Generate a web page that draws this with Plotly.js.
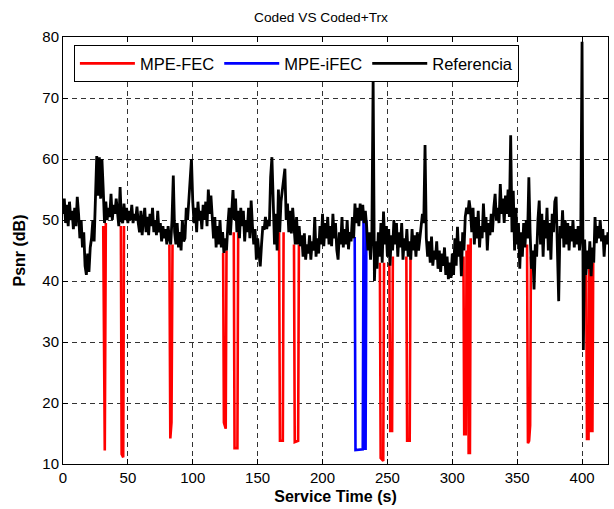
<!DOCTYPE html>
<html>
<head>
<meta charset="utf-8">
<script src="https://cdn.plot.ly/plotly-3.0.1.min.js"></script>
<style>html,body{margin:0;padding:0;background:#fff;}#chart{width:614px;height:509px;}</style>
</head>
<body>
<div id="chart"></div>
<script>
// Referencia: PSNR sampled every 1 s from t = 0 to 420 s
const refStart = 0;
const refStep = 1;
const refPsnr = [
  51, 53.5, 49.5, 52.5, 49, 53, 50, 51.5, 48.5, 52,
  49, 53.8, 51, 47, 50, 45.5, 48, 42.5, 41, 44.5,
  41.5, 45.5, 47, 50, 46.5, 53, 60.5, 54, 60.3, 53.5,
  60, 55, 49.5, 53, 50, 52, 50.5, 54.3, 50, 52.5,
  51, 53.5, 50.5, 49, 55.4, 50, 49.5, 52.7, 50, 52,
  49.5, 51.5, 50, 52.5, 49.5, 51, 50, 52.2, 49.5, 48,
  51.5, 47.5, 50, 52, 48, 50.5, 47.5, 51, 49, 52,
  48, 50, 47.5, 51.5, 48, 49.5, 46.5, 49, 47, 48.5,
  46, 49, 47, 46, 50, 57.3, 48, 46, 49.5, 45.5,
  48, 45, 50, 46.5, 47, 52, 50, 54, 56, 60,
  53, 49.5, 52, 48, 53, 50, 51.5, 48.5, 52.5, 50,
  53, 49, 55, 51, 54, 50, 47, 50.5, 45.5, 49,
  46, 50, 45.5, 48, 44.6, 47, 45, 49, 52, 47.5,
  51, 54.9, 50, 53.5, 48, 51.5, 47, 52, 49, 51.5,
  46.5, 50, 48, 52, 47, 53.2, 49, 46, 48.5, 43.5,
  47, 45, 42.4, 46, 49, 48.4, 50.5, 48.5, 50, 49,
  57, 60.3, 52, 46, 51, 45, 55, 48, 53, 55,
  57, 58.4, 50, 52.7, 48, 51.5, 47.8, 52, 49, 46,
  50.5, 46, 49, 45.7, 47.5, 44, 47.8, 43.5, 46, 44.5,
  47.5, 43.5, 46.5, 45, 50.5, 44, 47, 44.5, 49, 46,
  51, 45.7, 49.5, 47, 50.5, 46, 49, 45.7, 51, 47,
  49.5, 45.1, 43.5, 48, 46, 50.5, 45.5, 48.5, 46, 50,
  45.2, 48, 46.5, 50.5, 47, 52.7, 49.5, 52, 49, 52.7,
  50, 52.5, 49.5, 51.5, 49, 45, 48, 43.5, 47, 73.2,
  40, 46.5, 42, 48, 44, 49.5, 43, 51.4, 46, 49,
  44, 48.5, 42.5, 47.5, 45, 50, 46, 49.5, 44, 48,
  45.5, 49.5, 43.5, 47, 45, 48.5, 44, 46.5, 43.5, 48.5,
  45, 47.5, 44, 48, 45, 47, 49, 51, 49.5, 62.3,
  47, 44, 46.5, 43, 47.3, 42.5, 45, 43.5, 46.5, 42,
  45, 41.5, 44.5, 42.5, 45.5, 41, 44, 40.3, 43, 40.5,
  44.5, 41, 47, 42.5, 48.9, 44, 46.5, 40.8, 48, 45,
  50.5, 52, 51, 53.2, 51.5, 48, 52, 46, 50.5, 47,
  51.5, 45.5, 49, 47, 52.7, 48, 50.5, 45, 49.5, 47.5,
  51, 48, 52, 54.3, 50, 52, 49.5, 55.9, 51, 53.5,
  49.5, 54, 51, 55, 50.5, 63.9, 48, 54.8, 45, 52,
  46, 49.5, 42, 48, 44, 49.5, 45.5, 50, 47, 57,
  47.8, 42, 45, 38.6, 46, 44, 50, 53.2, 46, 51,
  44, 50, 47, 52, 45, 49.5, 43.5, 51, 48, 53,
  53.8, 46, 36.7, 49, 47, 51.6, 45.5, 50, 46, 49.5,
  45, 49, 46.5, 50, 45.5, 48.5, 46, 49, 45, 47.5,
  79.2, 28.7, 46.8, 41, 45, 42, 46.5, 40.8, 45.5, 43,
  50.5, 46.2, 49, 47, 50, 46.5, 48.5, 44, 47.5, 46,
  48
];

// MPE-FEC: where it departs from the reference (drops); null separates drops
const fecTime = [
  31.0, 31.8, 32.2, 33.0, null,
  44.6, 45.2, 46.4, 47.0, null,
  82.0, 82.7, 83.6, 84.4, null,
  123.4, 124.0, 125.4, 126.0, null,
  131.6, 132.2, 134.4, 135.0, null,
  166.5, 167.2, 169.4, 170.0, null,
  178.0, 178.6, 181.2, 181.8, null,
  244.2, 244.8, 246.8, 247.4, null,
  251.5, 252.2, 253.6, 254.2, null,
  264.6, 265.2, 267.2, 267.8, null,
  308.6, 309.2, 310.4, 311.0, 311.6, 312.2, 312.6, 313.6, 314.2, null,
  357.6, 358.3, 359.2, 360.0, 360.6, null,
  403.2, 403.8, 405.0, 405.6, 406.0, 406.6, 407.0, 408.0, 408.6
];
const fecPsnr = [
  49, 12.2, 12.2, 49.5, null,
  49, 11.6, 11.1, 49, null,
  46, 14.2, 16.8, 46, null,
  44.6, 16.8, 15.8, 45, null,
  48, 12.6, 12.6, 48, null,
  48, 13.8, 13.8, 48, null,
  46, 13.6, 13.8, 46, null,
  43, 11.0, 10.5, 43, null,
  43, 15.4, 15.4, 44, null,
  44, 13.8, 13.8, 44, null,
  44, 14.9, 14.9, 45, 22.7, 46, 11.8, 11.8, 47, null,
  46, 13.4, 13.8, 16.3, 44, null,
  41, 14.1, 14.1, 42, 17.9, 41, 15.4, 15.4, 43
];

// MPE-iFEC: drop around t = 225-234 s
const ifecTime = [224.8, 225.4, 231.0, 231.6, 232.2, 233.2, 233.8];
const ifecPsnr = [47.2, 12.3, 12.4, 50, 12.5, 12.5, 50];

const FONT = 'Arial, "Liberation Sans", sans-serif';

const traces = [
  {type: 'scatter', mode: 'lines', name: 'MPE-FEC', x: fecTime, y: fecPsnr,
   connectgaps: false, line: {color: '#ff0000', width: 2.6}},
  {type: 'scatter', mode: 'lines', name: 'MPE-iFEC', x: ifecTime, y: ifecPsnr,
   line: {color: '#0000ff', width: 2.6}},
  {type: 'scatter', mode: 'lines', name: 'Referencia', x0: refStart, dx: refStep, y: refPsnr,
   line: {color: '#000000', width: 2.8}}
];

const axisCommon = {
  showline: true, linecolor: '#000', linewidth: 1, mirror: 'ticks',
  ticks: 'inside', ticklen: 5, tickcolor: '#000',
  showgrid: true, gridcolor: '#333', gridwidth: 1, griddash: '5px,4px',
  zeroline: false, tickfont: {family: FONT, size: 15, color: '#000'}
};

const layout = {
  width: 614, height: 509,
  margin: {l: 63, r: 6, t: 37, b: 45},
  paper_bgcolor: '#fff', plot_bgcolor: '#fff',
  font: {family: FONT, color: '#000'},
  title: {text: 'Coded VS Coded+Trx', font: {family: FONT, size: 13.7, color: '#000'},
          x: 321 / 614, xref: 'container', xanchor: 'center',
          y: 1 - 17 / 509, yref: 'container', yanchor: 'middle'},
  xaxis: Object.assign({}, axisCommon, {
    range: [0, 420], tickmode: 'array', tickvals: [0, 50, 100, 150, 200, 250, 300, 350, 400],
    title: {text: '<b>Service Time (s)</b>', font: {family: FONT, size: 16, color: '#000'}, standoff: 5}
  }),
  yaxis: Object.assign({}, axisCommon, {
    range: [10, 80], tickmode: 'array', tickvals: [10, 20, 30, 40, 50, 60, 70, 80],
    title: {text: '<b>Psnr (dB)</b>', font: {family: FONT, size: 16, color: '#000'}, standoff: 12}
  }),
  showlegend: true,
  legend: {
    orientation: 'h', x: 0.02, xanchor: 'left', y: 0.981, yanchor: 'top',
    bgcolor: '#fff', bordercolor: '#000', borderwidth: 1,
    font: {family: FONT, size: 16.5, color: '#000'}, itemwidth: 55
  }
};

Plotly.newPlot('chart', traces, layout, {displayModeBar: false, staticPlot: true});
</script>
</body>
</html>
